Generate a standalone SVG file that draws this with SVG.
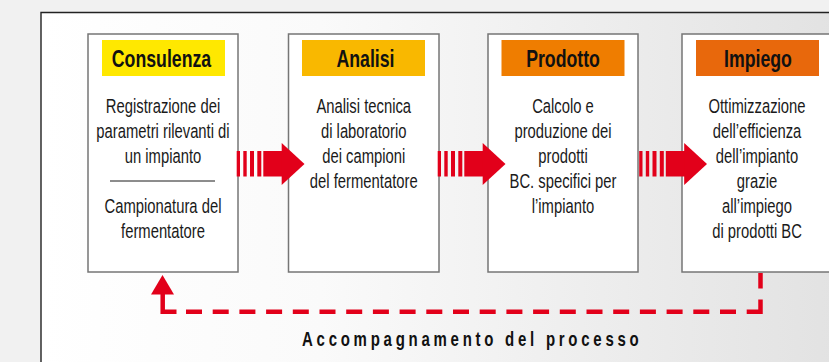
<svg xmlns="http://www.w3.org/2000/svg" xmlns:xlink="http://www.w3.org/1999/xlink" width="829" height="362" viewBox="0 0 829 362">
  <style>
    .box { fill: #ffffff; stroke: #767676; stroke-width: 1.5; }
    .hd { font-family: "Liberation Sans", Arial, sans-serif; font-weight: bold; font-size: 23px; fill: #111111; text-anchor: middle; }
    .bd { font-family: "Liberation Sans", Arial, sans-serif; font-size: 19.5px; fill: #1a1a1a; text-anchor: middle; }
    .ft { font-family: "Liberation Sans", Arial, sans-serif; font-weight: bold; font-size: 20px; fill: #111111; }
    .red { fill: #e2001a; }
    .dash { fill: none; stroke: #e2001a; stroke-width: 4.5; stroke-linejoin: miter; stroke-linecap: butt; }
  </style>
  <defs>
    <linearGradient id="panelGrad" x1="0" y1="0" x2="1" y2="0">
      <stop offset="0" stop-color="#ffffff"/>
      <stop offset="0.35" stop-color="#fafafa"/>
      <stop offset="1" stop-color="#e2e2e2"/>
    </linearGradient>
    <g id="arrow">
      <rect class="red" x="-1.3" y="-13" width="3.3" height="25.5"/>
      <rect class="red" x="5.3" y="-13" width="3.4" height="25.5"/>
      <rect class="red" x="12" y="-13" width="4" height="25.5"/>
      <rect class="red" x="19.3" y="-13" width="4" height="25.5"/>
      <rect class="red" x="25.3" y="-13" width="20" height="25.5"/>
      <polygon class="red" points="43.7,-21 66.5,0 43.7,21"/>
    </g>
  </defs>

  <!-- background -->
  <rect x="0" y="0" width="829" height="362" fill="#f1f1f1"/>
  <rect x="41" y="12.5" width="800" height="360" fill="url(#panelGrad)"/>
  <path d="M41 362 V12.5 H829" fill="none" stroke="#222222" stroke-width="1.4"/>

  <!-- nodes -->
  <g id="node-consulenza">
    <rect class="box" x="88" y="34" width="150" height="238"/>
    <rect x="102" y="40" width="123" height="36" fill="#ffe800"/>
    <text class="hd" transform="translate(161.5,66.5) scale(0.77,1)">Consulenza</text>
    <g class="bd" transform="translate(163,0) scale(0.76,1)">
      <text x="0" y="113">Registrazione dei</text>
      <text x="0" y="138">parametri rilevanti di</text>
      <text x="0" y="163">un impianto</text>
      <text x="0" y="213">Campionatura del</text>
      <text x="0" y="238">fermentatore</text>
    </g>
    <line x1="110" y1="181" x2="215" y2="181" stroke="#1a1a1a" stroke-width="1"/>
  </g>

  <g id="node-analisi">
    <rect class="box" x="288.5" y="34" width="150.5" height="238"/>
    <rect x="302" y="40" width="123" height="36" fill="#f9b800"/>
    <text class="hd" transform="translate(365.5,66.5) scale(0.77,1)">Analisi</text>
    <g class="bd" transform="translate(363.75,0) scale(0.76,1)">
      <text x="0" y="113">Analisi tecnica</text>
      <text x="0" y="138">di laboratorio</text>
      <text x="0" y="163">dei campioni</text>
      <text x="0" y="188">del fermentatore</text>
    </g>
  </g>

  <g id="node-prodotto">
    <rect class="box" x="488" y="34" width="150" height="238"/>
    <rect x="501.5" y="40" width="123" height="36" fill="#ef7d00"/>
    <text class="hd" transform="translate(563,66.5) scale(0.77,1)">Prodotto</text>
    <g class="bd" transform="translate(563,0) scale(0.76,1)">
      <text x="0" y="113">Calcolo e</text>
      <text x="0" y="138">produzione dei</text>
      <text x="0" y="163">prodotti</text>
      <text x="0" y="188">BC. specifici per</text>
      <text x="0" y="213">l’impianto</text>
    </g>
  </g>

  <g id="node-impiego">
    <rect class="box" x="682" y="34" width="152" height="238"/>
    <rect x="696" y="40" width="123" height="36" fill="#e8680c"/>
    <text class="hd" transform="translate(758,66.5) scale(0.77,1)">Impiego</text>
    <g class="bd" transform="translate(757,0) scale(0.76,1)">
      <text x="0" y="113">Ottimizzazione</text>
      <text x="0" y="138">dell’efficienza</text>
      <text x="0" y="163">dell’impianto</text>
      <text x="0" y="188">grazie</text>
      <text x="0" y="213">all’impiego</text>
      <text x="0" y="238">di prodotti BC</text>
    </g>
  </g>

  <!-- connectors -->
  <g id="connectors">
    <use xlink:href="#arrow" href="#arrow" transform="translate(238,164)"/>
    <use xlink:href="#arrow" href="#arrow" transform="translate(439,164)"/>
    <use xlink:href="#arrow" href="#arrow" transform="translate(640.5,164)"/>

    <path class="dash" d="M760.5 273 V288.5"/>
    <path class="dash" d="M760.5 299.5 V311.7 H746.7"/>
    <path class="dash" d="M736 311.7 H186" stroke-dasharray="16 10.7"/>
    <path class="dash" d="M176.5 311.7 H162.7 V292"/>
    <polygon class="red" points="151,294.5 162.5,275 174,294.5"/>
  </g>

  <g id="label-footer">
    <text class="ft" transform="translate(302,345.5) scale(0.75,1)" textLength="449" lengthAdjust="spacing">Accompagnamento del processo</text>
  </g>
</svg>
